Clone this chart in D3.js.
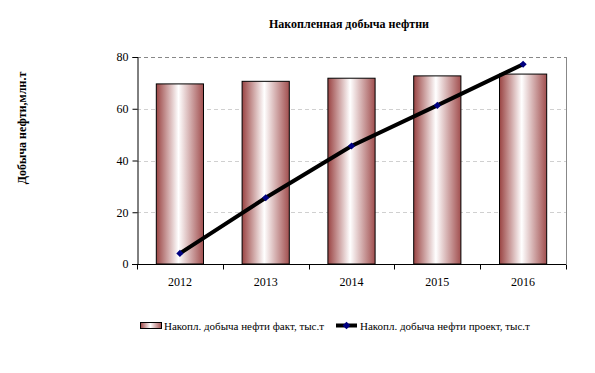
<!DOCTYPE html>
<html>
<head>
<meta charset="utf-8">
<title>Накопленная добыча нефтни</title>
<script src="https://cdn.jsdelivr.net/npm/d3@7"></script>
<style>
body { margin: 0; background: #fff; }
svg, svg text { font-family: "Liberation Serif", "Times New Roman", serif; }
</style>
</head>
<body>
<div id="chart"></div>
<script>
var years = ["2012", "2013", "2014", "2015", "2016"];
var factValues = [69.6, 70.6, 71.8, 72.7, 73.4];
var projectValues = [4.1, 25.6, 45.6, 61.3, 77.2];
var yTicks = [0, 20, 40, 60, 80];

var W = 595, H = 373;
var m = {left: 137, right: 29, top: 57, bottom: 109};
var pw = W - m.left - m.right, ph = H - m.top - m.bottom;

var svg = d3.select("#chart").append("svg").attr("width", W).attr("height", H);

var defs = svg.append("defs");
var grad = defs.append("linearGradient").attr("id", "barGrad")
  .attr("x1", "0%").attr("x2", "100%").attr("y1", "0%").attr("y2", "0%");
grad.append("stop").attr("offset", "0%").attr("stop-color", "#9a4443");
grad.append("stop").attr("offset", "47%").attr("stop-color", "#ffffff");
grad.append("stop").attr("offset", "100%").attr("stop-color", "#a14f4f");

var x = d3.scaleBand().domain(years).range([0, pw]).paddingInner(0.45).paddingOuter(0.225);
var xb = d3.scaleBand().domain(years).range([0, pw]);
var y = d3.scaleLinear().domain([0, 80]).range([ph, 0]);

var g = svg.append("g").attr("transform", "translate(" + m.left + "," + m.top + ")");

// grid
g.selectAll(".grid").data(yTicks.filter(function(d) { return d > 0; })).enter()
  .append("line")
  .attr("x1", 0).attr("x2", pw)
  .attr("y1", function(d) { return Math.round(y(d)) + 0.5; })
  .attr("y2", function(d) { return Math.round(y(d)) + 0.5; })
  .attr("stroke", function(d) { return d === 80 ? "#888" : "#d0d0d0"; })
  .attr("stroke-dasharray", "4,3");

// right border
g.append("line").attr("x1", pw + 0.5).attr("x2", pw + 0.5).attr("y1", 0).attr("y2", ph)
  .attr("stroke", "#888");

// bars
g.selectAll(".bar").data(factValues).enter().append("rect")
  .attr("x", function(d, i) { return x(years[i]); })
  .attr("y", function(d) { return y(d); })
  .attr("width", x.bandwidth())
  .attr("height", function(d) { return ph - y(d); })
  .attr("fill", "url(#barGrad)")
  .attr("stroke", "#000").attr("stroke-width", 1);

// axes
var yAxis = g.append("g").attr("transform", "translate(0.5,0)")
  .call(d3.axisLeft(y).tickValues(yTicks).tickSize(5).tickPadding(4));
yAxis.attr("font-family", null);
yAxis.select(".domain").attr("stroke", "#000");
yAxis.selectAll("text").attr("font-size", 12).attr("fill", "#000");

var xAxis = g.append("g").attr("transform", "translate(0," + (ph + 0.5) + ")");
xAxis.append("line").attr("x1", -5).attr("x2", pw).attr("stroke", "#000");
xAxis.selectAll(".tk").data(years.concat(["end"])).enter().append("line")
  .attr("x1", function(d, i) { return Math.round(i * xb.step()) + 0.5; })
  .attr("x2", function(d, i) { return Math.round(i * xb.step()) + 0.5; })
  .attr("y1", 0).attr("y2", 5).attr("stroke", "#000");
xAxis.selectAll(".lbl").data(years).enter().append("text")
  .attr("x", function(d) { return xb(d) + xb.bandwidth() / 2; })
  .attr("y", 21).attr("text-anchor", "middle").attr("font-size", 12)
  .text(function(d) { return d; });

// line
var line = d3.line()
  .x(function(d, i) { return x(years[i]) + x.bandwidth() / 2; })
  .y(function(d) { return y(d); });
g.append("path").datum(projectValues).attr("d", line)
  .attr("fill", "none").attr("stroke", "#000").attr("stroke-width", 4);
var marker = d3.symbol().type(d3.symbolSquare).size(26);
g.selectAll(".pt").data(projectValues).enter().append("path")
  .attr("d", marker)
  .attr("transform", function(d, i) {
    return "translate(" + (x(years[i]) + x.bandwidth() / 2) + "," + y(d) + ") rotate(45)";
  })
  .attr("fill", "#000080");

// titles
svg.append("text").attr("x", 349).attr("y", 28).attr("text-anchor", "middle")
  .attr("font-size", 12).attr("font-weight", "bold")
  .text("Накопленная добыча нефтни");
svg.append("text").attr("transform", "translate(26,128) rotate(-90)")
  .attr("text-anchor", "middle").attr("font-size", 12).attr("font-weight", "bold")
  .text("Добыча нефти,млн.т");

// legend
var lg = svg.append("g").attr("font-size", 11);
lg.append("rect").attr("x", 140.5).attr("y", 322.5).attr("width", 21).attr("height", 6)
  .attr("fill", "url(#barGrad)").attr("stroke", "#000");
lg.append("text").attr("x", 164).attr("y", 329.5).text("Накопл. добыча нефти факт, тыс.т");
lg.append("line").attr("x1", 336).attr("x2", 357).attr("y1", 325.5).attr("y2", 325.5)
  .attr("stroke", "#000").attr("stroke-width", 4);
lg.append("path").attr("d", d3.symbol().type(d3.symbolSquare).size(30))
  .attr("transform", "translate(346.5,325.5) rotate(45)").attr("fill", "#000080");
lg.append("text").attr("x", 360).attr("y", 329.5).text("Накопл. добыча нефти проект, тыс.т");
</script>
</body>
</html>
